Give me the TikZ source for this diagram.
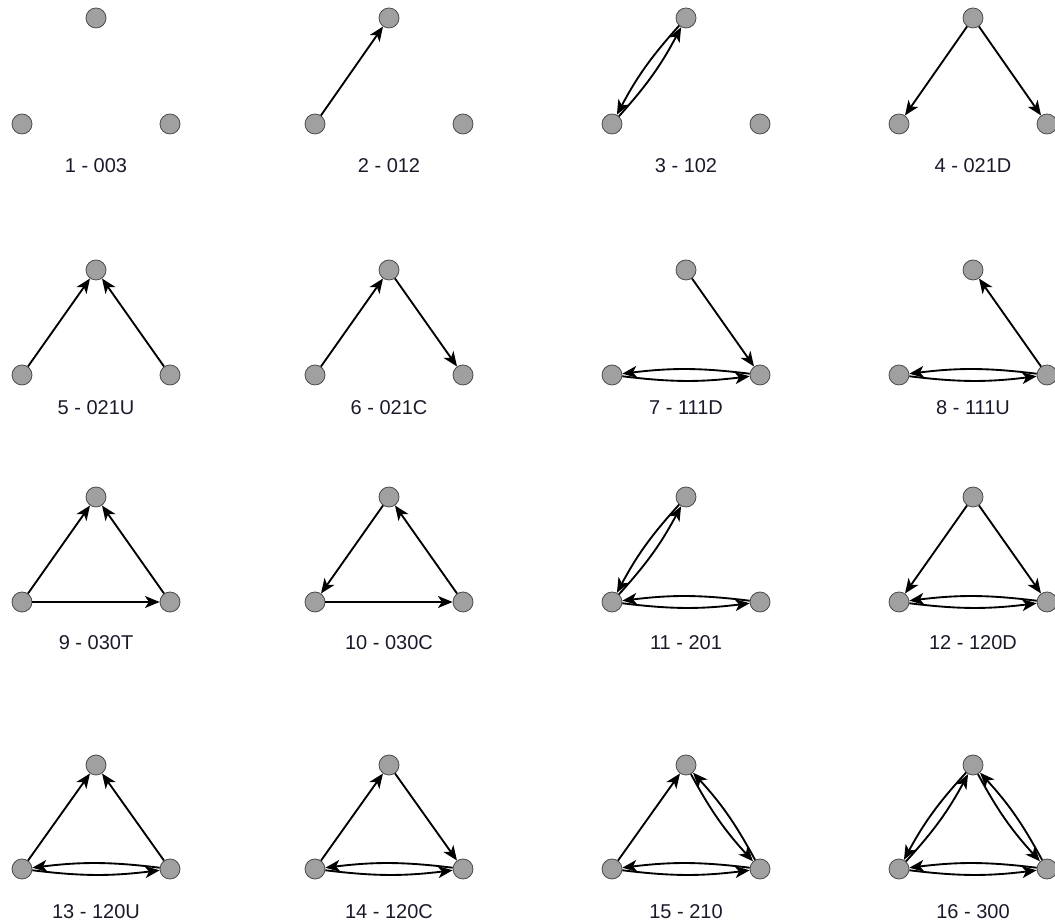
\documentclass[tikz,border=0pt]{standalone}
\usepackage{fontspec}
\setmainfont{Liberation Sans}
\usepackage{tikz}
\usetikzlibrary{arrows.meta}
\definecolor{triadgray}{HTML}{A0A0A0}
\definecolor{triadrim}{HTML}{4A4A4A}
\definecolor{triadink}{HTML}{1A1A2A}

\begin{document}
\begin{tikzpicture}[
        x=0.75pt, y=0.75pt,
        vertex/.style={circle, draw=triadrim, fill=triadgray, line width=0.6pt, minimum size=15pt, inner sep=0pt},
        caption/.style={font=\fontsize{15}{17}\selectfont, text=triadink, inner sep=0pt},
        arrow/.style={-{Stealth[length=11pt, width=9pt, inset=3pt]}, line width=1.4pt, black},
        mutual/.style={arrow, bend right=7}
    ]
        \useasboundingbox (0,0) rectangle (1055,923);
        % one triad per cell: top, left and right vertex plus caption
        \foreach \n/\cx/\ty/\by/\ly/\txt in {
            1/96/905/799/750/{1 - 003}, 2/389/905/799/750/{2 - 012}, 3/686/905/799/750/{3 - 102}, 4/973/905/799/750/{4 - 021D},
            5/96/653/548/508/{5 - 021U}, 6/389/653/548/508/{6 - 021C}, 7/686/653/548/508/{7 - 111D}, 8/973/653/548/508/{8 - 111U},
            9/96/426/321/273/{9 - 030T}, 10/389/426/321/273/{10 - 030C}, 11/686/426/321/273/{11 - 201}, 12/973/426/321/273/{12 - 120D},
            13/96/158/54/4/{13 - 120U}, 14/389/158/54/4/{14 - 120C}, 15/686/158/54/4/{15 - 210}, 16/973/158/54/4/{16 - 300}}{
            \node (top\n) [vertex] at (\cx,\ty) {};
            \node (left\n) [vertex] at (\cx-74,\by) {};
            \node (right\n) [vertex] at (\cx+74,\by) {};
            \node (lab\n) [caption, anchor=base] at (\cx,\ly) {\txt};
        }

        \draw [arrow] (left2) -- (top2);

        \draw [mutual] (left3) to (top3);
        \draw [mutual] (top3) to (left3);

        \draw [arrow] (top4) -- (left4);
        \draw [arrow] (top4) -- (right4);

        \draw [arrow] (left5) -- (top5);
        \draw [arrow] (right5) -- (top5);

        \draw [arrow] (left6) -- (top6);
        \draw [arrow] (top6) -- (right6);

        \draw [arrow] (top7) -- (right7);
        \draw [mutual] (left7) to (right7);
        \draw [mutual] (right7) to (left7);

        \draw [arrow] (right8) -- (top8);
        \draw [mutual] (left8) to (right8);
        \draw [mutual] (right8) to (left8);

        \draw [arrow] (left9) -- (top9);
        \draw [arrow] (right9) -- (top9);
        \draw [arrow] (left9) -- (right9);

        \draw [arrow] (top10) -- (left10);
        \draw [arrow] (right10) -- (top10);
        \draw [arrow] (left10) -- (right10);

        \draw [mutual] (left11) to (top11);
        \draw [mutual] (top11) to (left11);
        \draw [mutual] (left11) to (right11);
        \draw [mutual] (right11) to (left11);

        \draw [arrow] (top12) -- (left12);
        \draw [arrow] (top12) -- (right12);
        \draw [mutual] (left12) to (right12);
        \draw [mutual] (right12) to (left12);

        \draw [arrow] (left13) -- (top13);
        \draw [arrow] (right13) -- (top13);
        \draw [mutual] (left13) to (right13);
        \draw [mutual] (right13) to (left13);

        \draw [arrow] (left14) -- (top14);
        \draw [arrow] (top14) -- (right14);
        \draw [mutual] (left14) to (right14);
        \draw [mutual] (right14) to (left14);

        \draw [arrow] (left15) -- (top15);
        \draw [mutual] (top15) to (right15);
        \draw [mutual] (right15) to (top15);
        \draw [mutual] (left15) to (right15);
        \draw [mutual] (right15) to (left15);

        \draw [mutual] (left16) to (top16);
        \draw [mutual] (top16) to (left16);
        \draw [mutual] (top16) to (right16);
        \draw [mutual] (right16) to (top16);
        \draw [mutual] (left16) to (right16);
        \draw [mutual] (right16) to (left16);
    \end{tikzpicture}
\end{document}
